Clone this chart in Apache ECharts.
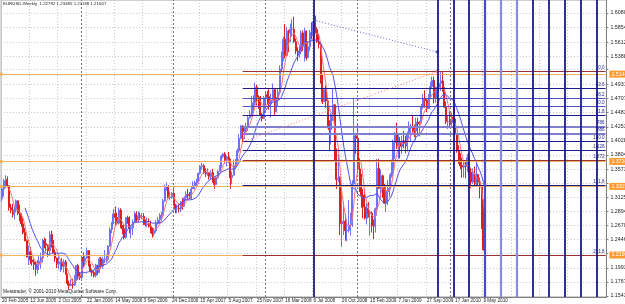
<!DOCTYPE html>
<html>
<head>
<meta charset="utf-8">
<script src="https://cdn.jsdelivr.net/npm/echarts@6/dist/echarts.min.js"></script>
<style>
  html, body { margin: 0; padding: 0; background: #fff; }
  #chart { width: 625px; height: 304px; }
</style>
</head>
<body>
<div id="chart"></div>
<script>
// EURUSD weekly, one value per week starting 20 Feb 2005
const FIRST_OPEN = 1.3100;
const CLOSE = [
  1.3260, 1.3390, 1.3410, 1.3310, 1.2960, 1.2920, 1.2850, 1.2920, 1.3070, 1.2870,
  1.2750, 1.2700, 1.2560, 1.2430, 1.2170, 1.2250, 1.2120, 1.2090, 1.2050, 1.1970,
  1.2050, 1.2100, 1.2160, 1.2430, 1.2380, 1.2360, 1.2270, 1.2530, 1.2420, 1.2240,
  1.2150, 1.2060, 1.2060, 1.2090, 1.2020, 1.2090, 1.1890, 1.1740, 1.1710, 1.1730,
  1.1720, 1.1810, 1.2030, 1.1860, 1.1840, 1.2160, 1.2100, 1.2150, 1.2270, 1.2020,
  1.1940, 1.1920, 1.1870, 1.2040, 1.1920, 1.2140, 1.2020, 1.2130, 1.2130, 1.2130,
  1.2340, 1.2610, 1.2720, 1.2860, 1.2800, 1.2710, 1.2920, 1.2640, 1.2620, 1.2480,
  1.2800, 1.2760, 1.2620, 1.2640, 1.2730, 1.2860, 1.2760, 1.2830, 1.2820, 1.2820,
  1.2700, 1.2690, 1.2700, 1.2660, 1.2580, 1.2540, 1.2590, 1.2710, 1.2760, 1.2830,
  1.2840, 1.3070, 1.3280, 1.3290, 1.3120, 1.3130, 1.3190, 1.3000, 1.2950, 1.2950,
  1.2940, 1.3050, 1.2980, 1.3120, 1.3170, 1.3150, 1.3110, 1.3260, 1.3310, 1.3360,
  1.3390, 1.3510, 1.3620, 1.3630, 1.3520, 1.3500, 1.3520, 1.3460, 1.3520, 1.3400,
  1.3330, 1.3440, 1.3540, 1.3620, 1.3780, 1.3820, 1.3720, 1.3770, 1.3720, 1.3440,
  1.3480, 1.3630, 1.3690, 1.3870, 1.4070, 1.4270, 1.4180, 1.4180, 1.4240, 1.4400,
  1.4450, 1.4610, 1.4640, 1.4890, 1.4730, 1.4630, 1.4440, 1.4390, 1.4720, 1.4770,
  1.4740, 1.4620, 1.4680, 1.4850, 1.4500, 1.4690, 1.4810, 1.5180, 1.5350, 1.5660,
  1.5400, 1.5790, 1.5760, 1.5820, 1.5820, 1.5620, 1.5470, 1.5450, 1.5460, 1.5760,
  1.5540, 1.5790, 1.5360, 1.5540, 1.5770, 1.5720, 1.5940, 1.5820, 1.5620, 1.5580,
  1.5010, 1.4660, 1.4850, 1.4670, 1.4260, 1.4210, 1.4450, 1.4610, 1.3770, 1.3410,
  1.3430, 1.2700, 1.2740, 1.2740, 1.2590, 1.2600, 1.2680, 1.2710, 1.3340, 1.4110,
  1.4070, 1.3580, 1.3440, 1.3160, 1.2970, 1.2790, 1.2950, 1.2870, 1.2870, 1.2670,
  1.2660, 1.2940, 1.3590, 1.3270, 1.3470, 1.3180, 1.3030, 1.3220, 1.3270, 1.3460,
  1.3510, 1.4000, 1.4150, 1.3950, 1.4000, 1.3940, 1.4030, 1.3990, 1.3950, 1.4140,
  1.4240, 1.4240, 1.4200, 1.4190, 1.4330, 1.4300, 1.4330, 1.4570, 1.4710, 1.4680,
  1.4550, 1.4720, 1.4900, 1.5000, 1.4720, 1.4860, 1.4890, 1.4950, 1.4990, 1.4860,
  1.4570, 1.4340, 1.4340, 1.4320, 1.4410, 1.4380, 1.4140, 1.3870, 1.3680, 1.3630,
  1.3610, 1.3630, 1.3620, 1.3760, 1.3530, 1.3370, 1.3500, 1.3340, 1.3490, 1.3370,
  1.3290, 1.2750, 1.2280, 1.2161
];
const HIGH = [
  1.3290, 1.3420, 1.3478, 1.3460, 1.3320, 1.3020, 1.3020, 1.2980, 1.3090, 1.3070,
  1.3010, 1.2870, 1.2790, 1.2630, 1.2450, 1.2350, 1.2330, 1.2260, 1.2140, 1.2100,
  1.2120, 1.2180, 1.2240, 1.2460, 1.2480, 1.2460, 1.2370, 1.2580, 1.2590, 1.2440,
  1.2290, 1.2160, 1.2220, 1.2120, 1.2150, 1.2130, 1.2120, 1.1900, 1.1790, 1.1810,
  1.1820, 1.1880, 1.2040, 1.2060, 1.1920, 1.2190, 1.2240, 1.2200, 1.2320, 1.2280,
  1.2060, 1.1970, 1.1960, 1.2060, 1.2040, 1.2170, 1.2170, 1.2170, 1.2280, 1.2210,
  1.2360, 1.2640, 1.2730, 1.2940, 1.2979, 1.2880, 1.2960, 1.2950, 1.2680, 1.2690,
  1.2810, 1.2830, 1.2820, 1.2670, 1.2770, 1.2900, 1.2900, 1.2900, 1.2880, 1.2870,
  1.2870, 1.2770, 1.2800, 1.2790, 1.2750, 1.2640, 1.2620, 1.2760, 1.2810, 1.2870,
  1.2890, 1.3100, 1.3330, 1.3367, 1.3320, 1.3220, 1.3210, 1.3300, 1.3020, 1.3010,
  1.3030, 1.3060, 1.3110, 1.3140, 1.3220, 1.3260, 1.3210, 1.3290, 1.3380, 1.3390,
  1.3420, 1.3520, 1.3640, 1.3680, 1.3660, 1.3590, 1.3590, 1.3520, 1.3560, 1.3580,
  1.3430, 1.3470, 1.3560, 1.3640, 1.3810, 1.3830, 1.3852, 1.3790, 1.3850, 1.3740,
  1.3540, 1.3730, 1.3740, 1.3910, 1.4140, 1.4280, 1.4280, 1.4250, 1.4320, 1.4430,
  1.4520, 1.4750, 1.4760, 1.4967, 1.4930, 1.4760, 1.4750, 1.4480, 1.4750, 1.4800,
  1.4830, 1.4860, 1.4790, 1.4950, 1.4870, 1.4730, 1.4860, 1.5240, 1.5460, 1.5700,
  1.5905, 1.5860, 1.5810, 1.5910, 1.5980, 1.6020, 1.5670, 1.5530, 1.5560, 1.5800,
  1.5800, 1.5840, 1.5800, 1.5630, 1.5810, 1.5930, 1.5970, 1.6038, 1.5850, 1.5750,
  1.5620, 1.5090, 1.4860, 1.4920, 1.4720, 1.4360, 1.4480, 1.4870, 1.4610, 1.3910,
  1.3820, 1.3460, 1.3300, 1.3060, 1.2860, 1.2770, 1.3080, 1.2880, 1.3400, 1.4720,
  1.4150, 1.4300, 1.3750, 1.3500, 1.3260, 1.3260, 1.3030, 1.3050, 1.2910, 1.2900,
  1.2770, 1.2960, 1.3740, 1.3740, 1.3570, 1.3490, 1.3340, 1.3300, 1.3400, 1.3490,
  1.3730, 1.4050, 1.4170, 1.4320, 1.4150, 1.4090, 1.4110, 1.4190, 1.4110, 1.4180,
  1.4340, 1.4300, 1.4450, 1.4290, 1.4400, 1.4400, 1.4350, 1.4620, 1.4780, 1.4840,
  1.4700, 1.4780, 1.4980, 1.5060, 1.5060, 1.4900, 1.5070, 1.5060, 1.5144, 1.5140,
  1.4890, 1.4660, 1.4440, 1.4510, 1.4480, 1.4580, 1.4540, 1.4150, 1.3960, 1.3830,
  1.3760, 1.3700, 1.3690, 1.3820, 1.3830, 1.3590, 1.3590, 1.3620, 1.3690, 1.3500,
  1.3440, 1.3320, 1.3090, 1.2349
];
const LOW = [
  1.3060, 1.3140, 1.3270, 1.3280, 1.2910, 1.2870, 1.2800, 1.2770, 1.2880, 1.2840,
  1.2740, 1.2650, 1.2530, 1.2420, 1.2160, 1.2040, 1.2060, 1.2030, 1.1960, 1.1868,
  1.1900, 1.1960, 1.1980, 1.2080, 1.2310, 1.2260, 1.2170, 1.2200, 1.2320, 1.2230,
  1.2090, 1.1990, 1.1970, 1.1930, 1.1960, 1.1920, 1.1880, 1.1710, 1.1640, 1.1700,
  1.1660, 1.1700, 1.1780, 1.1800, 1.1800, 1.1800, 1.2000, 1.2030, 1.2140, 1.2020,
  1.1920, 1.1860, 1.1840, 1.1840, 1.1880, 1.1920, 1.1980, 1.1980, 1.2070, 1.2080,
  1.2100, 1.2330, 1.2550, 1.2690, 1.2670, 1.2680, 1.2690, 1.2630, 1.2530, 1.2450,
  1.2460, 1.2700, 1.2550, 1.2470, 1.2520, 1.2730, 1.2730, 1.2720, 1.2760, 1.2770,
  1.2680, 1.2660, 1.2650, 1.2640, 1.2550, 1.2480, 1.2500, 1.2560, 1.2690, 1.2700,
  1.2770, 1.2820, 1.3050, 1.3230, 1.3110, 1.3080, 1.3100, 1.2990, 1.2870, 1.2870,
  1.2880, 1.2890, 1.2930, 1.2980, 1.3070, 1.3080, 1.3090, 1.3100, 1.3260, 1.3250,
  1.3310, 1.3340, 1.3490, 1.3570, 1.3500, 1.3450, 1.3470, 1.3410, 1.3410, 1.3360,
  1.3260, 1.3320, 1.3420, 1.3540, 1.3600, 1.3750, 1.3660, 1.3620, 1.3680, 1.3262,
  1.3340, 1.3570, 1.3580, 1.3680, 1.3840, 1.4050, 1.4020, 1.4060, 1.4130, 1.4190,
  1.4390, 1.4420, 1.4500, 1.4600, 1.4600, 1.4540, 1.4430, 1.4340, 1.4380, 1.4580,
  1.4610, 1.4530, 1.4400, 1.4660, 1.4440, 1.4490, 1.4590, 1.4790, 1.5130, 1.5310,
  1.5350, 1.5380, 1.5450, 1.5610, 1.5710, 1.5600, 1.5420, 1.5310, 1.5360, 1.5420,
  1.5470, 1.5300, 1.5320, 1.5370, 1.5470, 1.5660, 1.5570, 1.5760, 1.5600, 1.5510,
  1.4950, 1.4620, 1.4660, 1.4560, 1.4230, 1.3880, 1.3970, 1.4350, 1.3700, 1.3260,
  1.3370, 1.2520, 1.2330, 1.2520, 1.2430, 1.2420, 1.2560, 1.2510, 1.2650, 1.3330,
  1.3820, 1.3550, 1.3210, 1.2960, 1.2790, 1.2770, 1.2690, 1.2800, 1.2510, 1.2560,
  1.2457, 1.2560, 1.2830, 1.3260, 1.3110, 1.3120, 1.3020, 1.2890, 1.3000, 1.3130,
  1.3440, 1.3460, 1.3740, 1.3900, 1.3740, 1.3750, 1.3820, 1.3910, 1.3830, 1.3860,
  1.4070, 1.4020, 1.4160, 1.4090, 1.4040, 1.4140, 1.4100, 1.4310, 1.4540, 1.4560,
  1.4490, 1.4540, 1.4720, 1.4870, 1.4630, 1.4640, 1.4820, 1.4830, 1.4830, 1.4820,
  1.4560, 1.4300, 1.4220, 1.4260, 1.4260, 1.4340, 1.4040, 1.3840, 1.3660, 1.3580,
  1.3440, 1.3440, 1.3430, 1.3530, 1.3520, 1.3270, 1.3340, 1.3310, 1.3300, 1.3300,
  1.3110, 1.2620, 1.2270, 1.2114
];
const FUTURE_WEEKS = 68;
const TIME_LABELS = ['20 Feb 2005', '12 Jun 2005', '2 Oct 2005', '22 Jan 2006', '14 May 2006', '3 Sep 2006',
  '24 Dec 2006', '15 Apr 2007', '5 Aug 2007', '25 Nov 2007', '16 Mar 2008', '6 Jul 2008',
  '26 Oct 2008', '15 Feb 2009', '7 Jun 2009', '27 Sep 2009', '17 Jan 2010', '9 May 2010'];
// grid levels of the price scale; the three hidden ones sit under an object label
const PRICE_TICKS = [1.15430, 1.17670, 1.19930, 1.22240, 1.24460, 1.26700, 1.28940, 1.31250, 1.33580,
  1.35730, 1.38040, 1.40280, 1.42530, 1.44830, 1.47070, 1.49310, 1.51720, 1.53880, 1.56120, 1.58540, 1.60800];
const HIDDEN_TICKS = [1.22240, 1.33580, 1.51720];
const YEAR_STARTS = [45, 97, 149, 201, 253];
const H_LINES = [1.51430, 1.37370, 1.33250, 1.21990];
const FIB_FROM = [136, 1.4018];
const FIB_TO = [246, 1.5143];
const FIB_LEVELS = [0, 23.6, 38.2, 50, 61.8, 78.6, 88.6, 100, 112.8, 127.2, 161.8, 261.8];
const FIB_NAMES = ['0.0', '23.6', '38.2', '50.0', '61.8', '.786', '.886', '100.0', '1.128', '1.272', '161.8', '261.8'];
const TREND_FROM = [176, 1.5967];
const TREND_TO = [246, 1.5454];
const V_LINES = [176, 246, 255, 264, 273, 282, 291, 300, 309, 318, 327, 336];
const TITLE = 'EURUSD,Weekly  1.22792 1.23485 1.21138 1.21607';
const COPYRIGHT = 'Metatrader, \u00a9 2001-2010 MetaQuotes Software Corp.';

const FONT = '"Liberation Sans", Arial, sans-serif';
const Y_MAX = 1.6288;
const Y_MIN = 1.1527;

const nTotal = CLOSE.length + FUTURE_WEEKS;
const categories = Array.from({ length: nTotal }, (_, i) => String(i));
const candles = CLOSE.map((c, i) => {
  const o = i === 0 ? FIRST_OPEN : CLOSE[i - 1];
  return [o, c, Math.min(LOW[i], o, c), Math.max(HIGH[i], o, c)];
});

function sma(n) {
  return CLOSE.map((_, i) => {
    if (i < n - 1) return '-';
    let s = 0;
    for (let k = i - n + 1; k <= i; k++) s += CLOSE[k];
    return +(s / n).toFixed(5);
  });
}

const fibColors = { '0.0': '#993333', '1.272': '#993333', '261.8': '#993333', '.786': '#8080d0', '.886': '#8080d0', '38.2': '#5050c0', '50.0': '#5050c0' };
const fibLines = FIB_LEVELS.map((lv, i) => {
  const p = FIB_TO[1] - (FIB_TO[1] - FIB_FROM[1]) * lv / 100;
  const c = fibColors[FIB_NAMES[i]] || '#1a1a8c';
  return [
    { coord: [FIB_FROM[0], p], lineStyle: { color: c, width: c === '#8080d0' ? 2 : 1.2, type: 'solid' },
      label: { show: true, position: 'insideEndTop', formatter: FIB_NAMES[i], color: '#1a1a8c', fontSize: 4.5, fontFamily: FONT, distance: 1 } },
    { coord: [nTotal - 1, p] }
  ];
});

const vColors = { 273: '#4a4ad0', 282: '#8a8ae0', 291: '#8a8ae0' };
const vLines = V_LINES.map(i => ({ xAxis: i, lineStyle: { color: vColors[i] || '#1a1a8c', width: vColors[i] ? 2.2 : 1.8, type: 'solid' } }));

const chart = echarts.init(document.getElementById('chart'), null, { renderer: 'canvas' });
chart.setOption({
  animation: false,
  backgroundColor: '#fff',
  title: [
    { text: TITLE, left: 3, top: 2, padding: 0, textStyle: { fontSize: 4.4, fontWeight: 'normal', color: '#222', fontFamily: FONT } },
    { text: COPYRIGHT, left: 3, top: 289, padding: 0, textStyle: { fontSize: 4.8, fontWeight: 'normal', color: '#222', fontFamily: FONT } }
  ],
  grid: { left: 1.1, right: 18.6, top: 0, bottom: 7, outerBoundsMode: 'none', containLabel: false, show: true, borderColor: '#a0a0a0', borderWidth: 1 },
  xAxis: {
    type: 'category', data: categories, boundaryGap: true,
    axisLine: { show: true, lineStyle: { color: '#808080' } },
    axisTick: { show: false, interval: 15 },
    axisLabel: {
      interval: 15, margin: 1, align: 'left', fontSize: 4.7, color: '#222', fontFamily: FONT,
      showMinLabel: true, showMaxLabel: false, hideOverlap: false,
      formatter: (v, i) => (i % 16 === 0 && TIME_LABELS[i / 16]) || ''
    },
    splitLine: { show: true, interval: 15, lineStyle: { color: '#c8c8c8', type: [1, 2] } }
  },
  yAxis: {
    type: 'value', position: 'right', min: Y_MIN, max: Y_MAX,
    axisLine: { show: true, lineStyle: { color: '#808080' } },
    axisTick: { show: true, length: 2, customValues: PRICE_TICKS, lineStyle: { color: '#808080' } },
    axisLabel: {
      customValues: PRICE_TICKS.filter(v => !HIDDEN_TICKS.includes(v)),
      formatter: v => v.toFixed(5), fontSize: 5.3, color: '#222', margin: 4, fontFamily: FONT,
      overflow: 'none', width: 40, hideOverlap: false
    },
    splitLine: { show: true, lineStyle: { color: '#c8c8c8', type: [1, 2] } }
  },
  series: [
    {
      type: 'line', data: [], silent: true,
      markLine: {
        silent: true, symbol: 'none', animation: false,
        label: { show: false },
        data: YEAR_STARTS.map(i => ({ xAxis: i, lineStyle: { color: '#707070', width: 1, type: [2, 2] } }))
      }
    },
    {
      type: 'line', data: [], silent: true,
      markLine: {
        silent: true, symbol: ['rect', 'none'], symbolSize: 3, animation: false,
        data: H_LINES.map(p => ({
          yAxis: p, lineStyle: { color: '#f5b060', width: 1.2, type: 'solid' },
          label: { show: true, position: 'end', formatter: p.toFixed(5), backgroundColor: '#ff9a2e', color: '#fff', fontSize: 5.3, fontFamily: FONT, padding: [1, 2], distance: 3 }
        }))
      }
    },
    {
      type: 'line', data: [], silent: true,
      markLine: { silent: true, symbol: 'none', animation: false, data: fibLines }
    },
    {
      type: 'line', data: [], silent: true,
      markLine: {
        silent: true, symbol: ['none', 'rect'], symbolSize: 3, animation: false,
        label: { show: false },
        data: [
          [{ coord: FIB_FROM, lineStyle: { color: '#f08070', width: 1, type: [1, 2] } }, { coord: FIB_TO }],
          [{ coord: TREND_FROM, lineStyle: { color: '#6060d0', width: 1, type: [1, 2] } }, { coord: TREND_TO }]
        ]
      }
    },
    {
      type: 'line', data: [], silent: true,
      markLine: { silent: true, symbol: 'none', animation: false, label: { show: false }, data: vLines }
    },
    {
      type: 'candlestick', data: candles, barWidth: 1.5, silent: true,
      itemStyle: { color: '#5a5aff', color0: '#cc0000', borderColor: '#7070ff', borderColor0: '#dd2020', borderWidth: 1 }
    },
    { type: 'line', data: sma(5), symbol: 'none', silent: true, lineStyle: { color: '#ff7070', width: 1 } },
    { type: 'line', data: sma(14), symbol: 'none', silent: true, lineStyle: { color: '#5050f0', width: 1 } }
  ]
});
</script>
</body>
</html>
